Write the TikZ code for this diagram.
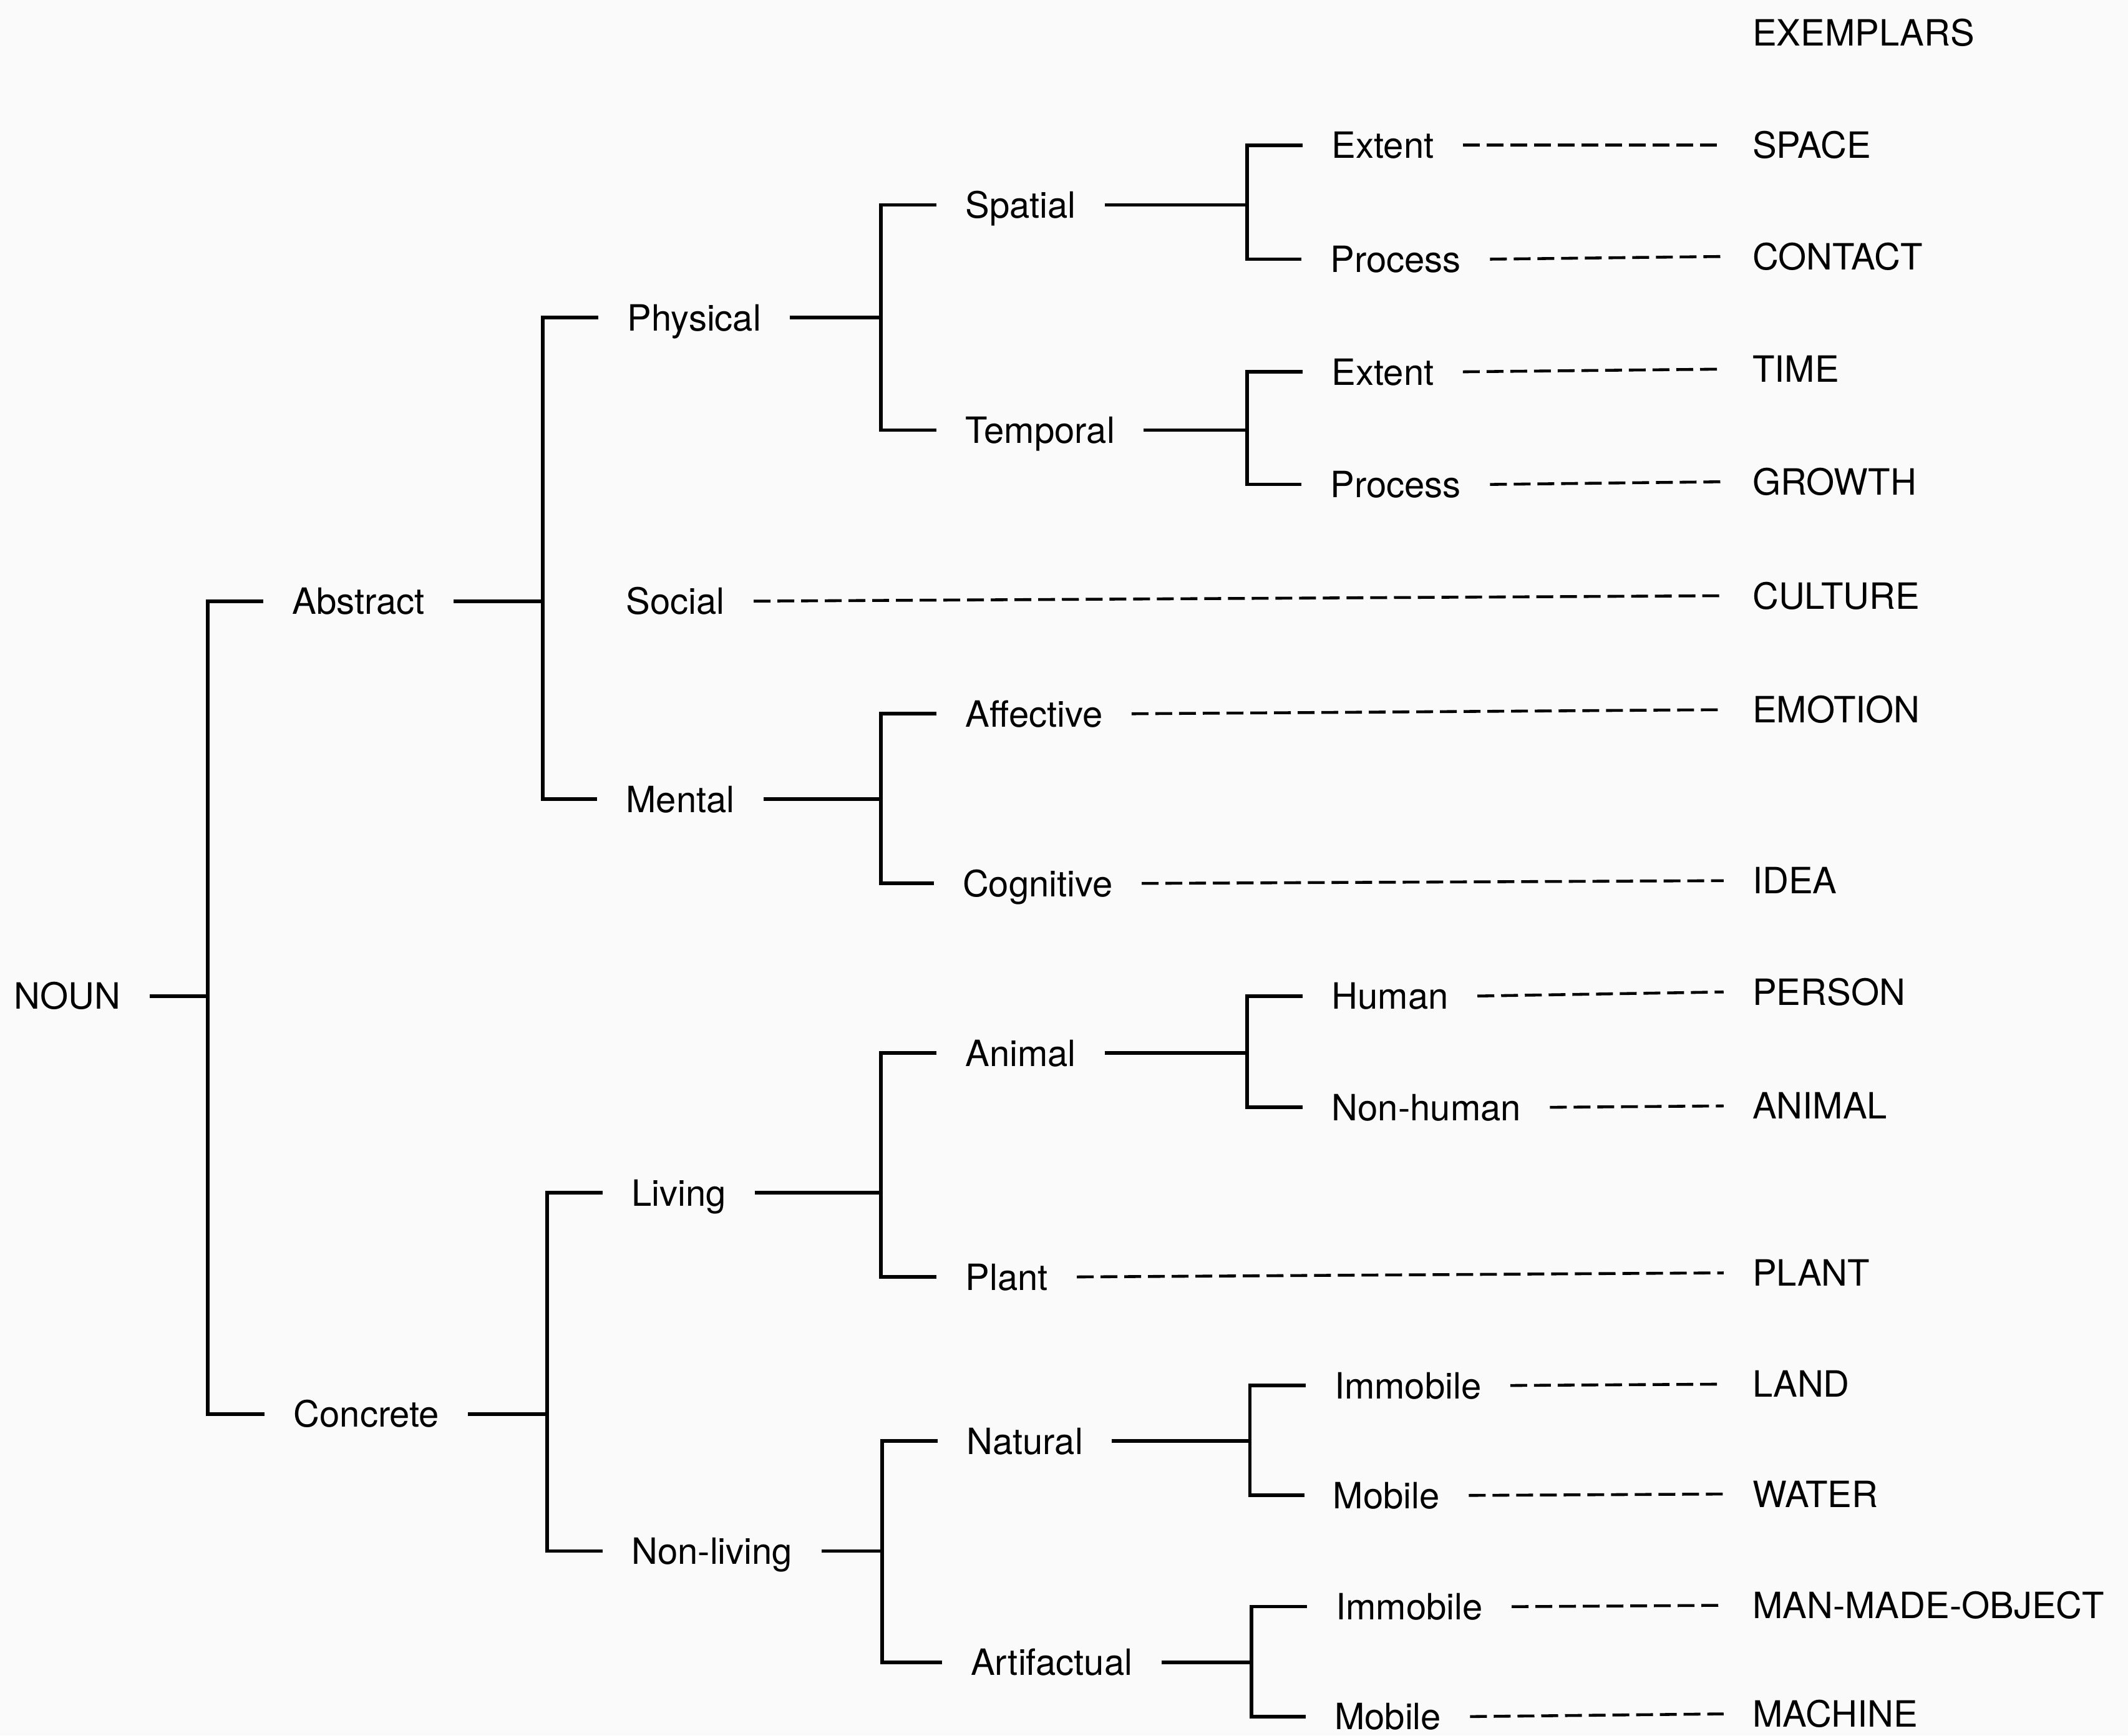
\documentclass[tikz,border=0pt]{standalone}
\usepackage{fontspec}
\setmainfont{TeX Gyre Heros}
\definecolor{paper}{RGB}{250,250,250}
% bracket: parent, upper child, lower child
\newcommand\fork[3]{%
 \path (#2.west) ++(-41,0) coordinate (#1-j);
 \draw[tree] (#1.east) -- (#1.east -| #1-j);
 \draw[tree] (#2.west) -- (#2.west -| #1-j) -- (#3.west -| #1-j) -- (#3.west);
}
\begin{document}
\begin{tikzpicture}[x=0.02175cm,y=-0.02175cm,
 lbl/.style={anchor=west,inner xsep=0.457cm,inner ysep=0pt,text height=0.42cm,text depth=0pt,font=\fontsize{16.5}{20}\selectfont},
 tree/.style={line width=1.6pt,line join=miter},
 link/.style={line width=1.3pt,dash pattern=on 0.27cm off 0.11cm}]
 \useasboundingbox[fill=paper] (0,0) rectangle (1568,1279);
 \def\xe{1270} % columna de ejemplares
 % niveles del arbol
 \node[lbl] (noun) at (-11,734) {NOUN};
 \node[lbl] (abstract) at (194,443) {Abstract};
 \node[lbl] (concrete) at (195,1042) {Concrete};
 \node[lbl] (physical) at (441,234) {Physical};
 \node[lbl] (social) at (440,443) {Social};
 \node[lbl] (mental) at (440,589) {Mental};
 \node[lbl] (living) at (444,879) {Living};
 \node[lbl] (nonliving) at (444,1143) {Non-living};
 \node[lbl] (spatial) at (690,151) {Spatial};
 \node[lbl] (temporal) at (690,317) {Temporal};
 \node[lbl] (affective) at (690,526) {Affective};
 \node[lbl] (cognitive) at (688,651) {Cognitive};
 \node[lbl] (animal) at (690,776) {Animal};
 \node[lbl] (plant) at (690,941) {Plant};
 \node[lbl] (natural) at (691,1062) {Natural};
 \node[lbl] (artifactual) at (694,1225) {Artifactual};
 \node[lbl] (extA) at (960,107) {Extent};
 \node[lbl] (procA) at (959,191) {Process};
 \node[lbl] (extB) at (960,274) {Extent};
 \node[lbl] (procB) at (959,357) {Process};
 \node[lbl] (human) at (960,734) {Human};
 \node[lbl] (nonhuman) at (960,816) {Non-human};
 \node[lbl] (immA) at (962,1021) {Immobile};
 \node[lbl] (mobA) at (961,1102) {Mobile};
 \node[lbl] (immB) at (963,1184) {Immobile};
 \node[lbl] (mobB) at (962,1265) {Mobile};
 % ejemplares
 \node[lbl] (exemplars) at (\xe,24) {EXEMPLARS};
 \node[lbl] (space) at (\xe,107) {SPACE};
 \node[lbl] (contact) at (\xe,189) {CONTACT};
 \node[lbl] (time) at (\xe,272) {TIME};
 \node[lbl] (growth) at (\xe,355) {GROWTH};
 \node[lbl] (culture) at (\xe,439) {CULTURE};
 \node[lbl] (emotion) at (\xe,523) {EMOTION};
 \node[lbl] (idea) at (\xe,649) {IDEA};
 \node[lbl] (person) at (\xe,731) {PERSON};
 \node[lbl] (animalx) at (\xe,815) {ANIMAL};
 \node[lbl] (plantx) at (\xe,938) {PLANT};
 \node[lbl] (land) at (\xe,1020) {LAND};
 \node[lbl] (water) at (\xe,1101) {WATER};
 \node[lbl] (manmade) at (\xe,1183) {MAN-MADE-OBJECT};
 \node[lbl] (machine) at (\xe,1263) {MACHINE};
 % corchetes
 \fork{noun}{abstract}{concrete}
 \fork{abstract}{physical}{mental}
 \fork{physical}{spatial}{temporal}
 \fork{spatial}{extA}{procA}
 \fork{temporal}{extB}{procB}
 \fork{mental}{affective}{cognitive}
 \fork{concrete}{living}{nonliving}
 \fork{living}{animal}{plant}
 \fork{animal}{human}{nonhuman}
 \fork{nonliving}{natural}{artifactual}
 \fork{natural}{immA}{mobA}
 \fork{artifactual}{immB}{mobB}
 % lineas a trazos hacia los ejemplares
 \draw[link] (extA.east) -- (space.west);
 \draw[link] (procA.east) -- (contact.west);
 \draw[link] (extB.east) -- (time.west);
 \draw[link] (procB.east) -- (growth.west);
 \draw[link] (social.east) -- (culture.west);
 \draw[link] (affective.east) -- (emotion.west);
 \draw[link] (cognitive.east) -- (idea.west);
 \draw[link] (human.east) -- (person.west);
 \draw[link] (nonhuman.east) -- (animalx.west);
 \draw[link] (plant.east) -- (plantx.west);
 \draw[link] (immA.east) -- (land.west);
 \draw[link] (mobA.east) -- (water.west);
 \draw[link] (immB.east) -- (manmade.west);
 \draw[link] (mobB.east) -- (machine.west);
\end{tikzpicture}
\end{document}
